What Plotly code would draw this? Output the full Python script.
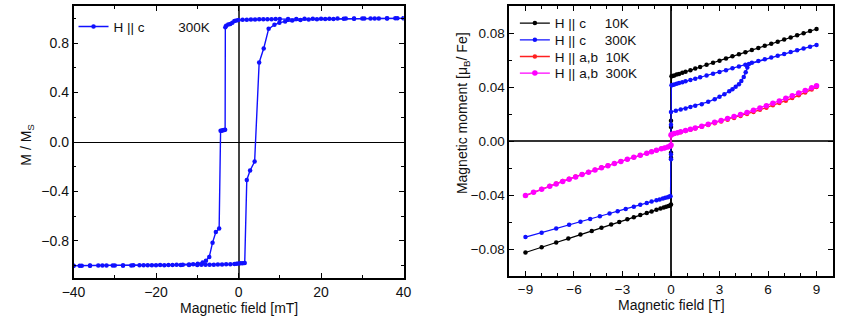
import plotly.graph_objects as go

# ---------------- Left panel: hysteresis loop at 300 K (H || c) ----------------
H_down = [40, 38, 36, 34, 32, 30, 28, 26, 24, 22, 20, 18, 16, 14, 12, 10, 9, 8, 7, 6, 5, 4, 3, 2, 1, 0,
          -0.5, -1.0, -1.5, -2.0, -2.5, -3.0, -3.2, -3.25, -3.5, -3.8, -4.1, -4.35, -4.7, -5.5, -6.3,
          -7.1, -7.9, -8.7, -9.9, -11, -12, -13.5, -15, -17, -19, -21, -23, -25.5, -28, -30.5, -33,
          -36, -38.5, -40]
M_down = [1.000, 1.000, 1.000, 0.999, 0.999, 0.999, 0.998, 0.998, 0.998, 0.997, 0.997, 0.996, 0.996,
          0.995, 0.995, 0.994, 0.994, 0.993, 0.993, 0.992, 0.992, 0.991, 0.990, 0.989, 0.988, 0.986,
          0.983, 0.978, 0.965, 0.955, 0.950, 0.940, 0.928, 0.100, 0.097, 0.095, 0.092, 0.090, -0.700,
          -0.728, -0.814, -0.930, -0.960, -0.975, -0.985, -0.988, -0.990, -0.992, -0.993, -0.994,
          -0.995, -0.996, -0.997, -0.997, -0.998, -0.998, -0.999, -0.999, -1.000, -1.000]
H_up = [-40, -38, -36, -34, -32, -30, -28, -26, -24, -22, -20, -18, -16, -14, -12, -10, -9, -8, -7, -6,
        -5, -4, -3, -2, -1, -0.5, 0, 0.5, 1.0, 1.5, 2.0, 2.8, 3.9, 5.0, 6.1, 7.3, 8.7, 9.9, 11.3, 13,
        15, 17, 19, 21, 23, 25.5, 28, 30.5, 33, 36, 38.5, 40]
M_up = [-1.000, -1.000, -1.000, -0.999, -0.999, -0.999, -0.998, -0.998, -0.997, -0.997, -0.996, -0.996,
        -0.995, -0.995, -0.994, -0.994, -0.993, -0.993, -0.992, -0.992, -0.991, -0.990, -0.989, -0.988,
        -0.986, -0.985, -0.983, -0.981, -0.980, -0.979, -0.307, -0.230, -0.158, 0.643, 0.756, 0.915,
        0.948, 0.965, 0.975, 0.982, 0.987, 0.990, 0.992, 0.994, 0.995, 0.996, 0.997, 0.998, 0.999,
        0.999, 1.000, 1.000]

# ---------------- Right panel: magnetic moment vs field ----------------
# H || c, 10 K (black)
Hc10 = [9.0, 8.6, 8.2, 7.8, 7.4, 7.0, 6.6, 6.2, 5.8, 5.4, 5.0, 4.6, 4.2, 3.8, 3.4, 3.0, 2.6, 2.2, 1.8,
        1.5, 1.2, 0.9, 0.7, 0.5, 0.35, 0.2, 0.1, 0.03,
        0, 0, 0, 0, 0,
        -0.05, -0.15, -0.3, -0.45, -0.65, -0.9, -1.2, -1.5, -1.9, -2.3, -2.7, -3.2, -3.7, -4.3, -4.9,
        -5.6, -6.35, -7.1, -8.0, -9.0]
Mc10 = [0.0830, 0.0814, 0.0799, 0.0783, 0.0767, 0.0752, 0.0736, 0.0720, 0.0705, 0.0689, 0.0674,
        0.0658, 0.0642, 0.0627, 0.0611, 0.0595, 0.0580, 0.0564, 0.0548, 0.0537, 0.0525, 0.0513,
        0.0505, 0.0497, 0.0492, 0.0486, 0.0482, 0.0479,
        0.0150, 0.0104, -0.0087, -0.0124, -0.0470,
        -0.0477, -0.0481, -0.0487, -0.0493, -0.0500, -0.0510, -0.0522, -0.0534, -0.0549, -0.0565,
        -0.0580, -0.0600, -0.0619, -0.0643, -0.0666, -0.0693, -0.0723, -0.0752, -0.0787, -0.0826]

# H || c, 300 K (blue): virgin curve, upper branch, jump, lower branch
Hc300 = [0.0, 0.3, 0.6, 0.9, 1.2, 1.5, 1.9, 2.3, 2.7, 3.0, 3.3, 3.6, 3.8, 4.0, 4.2, 4.35, 4.5, 4.62,
         4.72, 4.82,
         9.0, 8.6, 8.2, 7.8, 7.4, 7.0, 6.6, 6.2, 5.8, 5.4, 5.0, 4.6, 4.2, 3.8, 3.4, 3.0, 2.6, 2.2, 1.8,
         1.5, 1.2, 0.9, 0.7, 0.5, 0.35, 0.2, 0.1, 0.03,
         0, 0, 0,
         -0.03, -0.1, -0.2, -0.35, -0.5, -0.7, -0.9, -1.2, -1.5, -1.9, -2.3, -2.8, -3.3, -3.8, -4.4,
         -5.0, -5.6, -6.3, -7.1, -8.0, -9.0]
Mc300 = [0.0215, 0.0225, 0.0233, 0.0241, 0.0251, 0.0261, 0.0273, 0.0290, 0.0310, 0.0327, 0.0347,
         0.0368, 0.0384, 0.0401, 0.0421, 0.0445, 0.0475, 0.0510, 0.0545, 0.0570,
         0.0712, 0.0699, 0.0685, 0.0672, 0.0659, 0.0645, 0.0632, 0.0619, 0.0605, 0.0592, 0.0579,
         0.0565, 0.0552, 0.0539, 0.0525, 0.0512, 0.0499, 0.0485, 0.0472, 0.0462, 0.0452, 0.0442,
         0.0435, 0.0429, 0.0424, 0.0419, 0.0415, 0.0413,
         0.0120, -0.0100, -0.0136,
         -0.0410, -0.0412, -0.0416, -0.0421, -0.0426, -0.0433, -0.0439, -0.0449, -0.0460, -0.0473,
         -0.0487, -0.0503, -0.0520, -0.0537, -0.0557, -0.0578, -0.0598, -0.0621, -0.0648, -0.0679,
         -0.0712]

# H || a,b (red 10 K, magenta 300 K)
Hab = [-9.0, -8.5, -8.0, -7.5, -7.1, -6.7, -6.3, -5.9, -5.5, -5.1, -4.7, -4.3, -3.9, -3.5, -3.1, -2.7,
       -2.3, -1.9, -1.5, -1.2, -0.9, -0.6, -0.4, -0.2, -0.05,
       0, 0,
       0.05, 0.2, 0.4, 0.6, 0.9, 1.2, 1.5, 1.9, 2.3, 2.7, 3.1, 3.5, 3.9, 4.3, 4.7, 5.1, 5.5, 5.9, 6.3,
       6.7, 7.1, 7.5, 7.9, 8.3, 8.7, 9.0]
Mab10 = [-0.0405, -0.0380, -0.0355, -0.0333, -0.0315, -0.0297, -0.0280, -0.0263, -0.0246, -0.0230,
         -0.0213, -0.0197, -0.0181, -0.0166, -0.0150, -0.0135, -0.0120, -0.0105, -0.0090, -0.0079,
         -0.0068, -0.0058, -0.0051, -0.0044, -0.0038,
         -0.0030, 0.0040,
         0.0048, 0.0053, 0.0059, 0.0065, 0.0074, 0.0083, 0.0093, 0.0105, 0.0118, 0.0131, 0.0144,
         0.0157, 0.0171, 0.0185, 0.0200, 0.0215, 0.0231, 0.0247, 0.0264, 0.0281, 0.0299, 0.0318,
         0.0338, 0.0359, 0.0381, 0.0400]
Mab300 = [-0.0403, -0.0380, -0.0357, -0.0336, -0.0318, -0.0300, -0.0283, -0.0266, -0.0249, -0.0232,
          -0.0215, -0.0199, -0.0183, -0.0167, -0.0151, -0.0136, -0.0121, -0.0106, -0.0091, -0.0080,
          -0.0069, -0.0058, -0.0051, -0.0044, -0.0038,
          -0.0030, 0.0045,
          0.0050, 0.0055, 0.0061, 0.0068, 0.0077, 0.0087, 0.0097, 0.0110, 0.0124, 0.0138, 0.0152,
          0.0166, 0.0181, 0.0196, 0.0212, 0.0228, 0.0245, 0.0262, 0.0279, 0.0297, 0.0316, 0.0335,
          0.0355, 0.0375, 0.0395, 0.0409]

NB = "\u00a0"
FONT = "Arial, 'Liberation Sans', sans-serif"
BLUE = "#1010ff"

fig = go.Figure()

# Left panel (single legend entry, two branches)
fig.add_trace(go.Scatter(x=H_down + [None] + H_up, y=M_down + [None] + M_up, mode="lines+markers",
                         name="H || c" + NB * 9 + "300K", line=dict(color=BLUE, width=1.4),
                         marker=dict(color=BLUE, size=4.5), connectgaps=False,
                         xaxis="x", yaxis="y", legend="legend"))

# Right panel (one legend box per row for exact row spacing)
fig.add_trace(go.Scatter(x=Hc10, y=Mc10, mode="lines+markers", name="H || c" + NB * 5 + "10K",
                         line=dict(color="black", width=1.2), marker=dict(color="black", size=4.5),
                         xaxis="x2", yaxis="y2", legend="legend2"))
fig.add_trace(go.Scatter(x=Hc300, y=Mc300, mode="lines+markers", name="H || c" + NB * 5 + "300K",
                         line=dict(color=BLUE, width=1.2), marker=dict(color=BLUE, size=4.5),
                         xaxis="x2", yaxis="y2", legend="legend3"))
fig.add_trace(go.Scatter(x=Hab, y=Mab10, mode="lines+markers", name="H || a,b" + NB * 2 + "10K",
                         line=dict(color="#ff2020", width=1.3), marker=dict(color="#ff2020", size=4.5),
                         xaxis="x2", yaxis="y2", legend="legend4"))
fig.add_trace(go.Scatter(x=Hab, y=Mab300, mode="lines+markers", name="H || a,b" + NB * 2 + "300K",
                         line=dict(color="#ff00ff", width=1.3), marker=dict(color="#ff00ff", size=5.5),
                         xaxis="x2", yaxis="y2", legend="legend5"))

W, Hh = 849, 323


def px_x(p):
    return p / W


def px_y(p):
    return 1 - p / Hh


def axis_common(fs):
    return dict(showline=True, linecolor="black", linewidth=1.5, mirror="ticks", ticks="inside",
                ticklen=5, tickwidth=1.2, tickcolor="black", showgrid=False,
                tickfont=dict(family=FONT, size=fs, color="#111"))


def leg(xp, yp):
    return dict(x=px_x(xp), y=px_y(yp), xanchor="left", yanchor="middle", bgcolor="rgba(0,0,0,0)",
                font=dict(family=FONT, size=13.5, color="#111"), itemwidth=30, tracegroupgap=0)


fig.update_layout(
    width=W, height=Hh, margin=dict(l=0, r=0, t=0, b=0),
    paper_bgcolor="white", plot_bgcolor="white",
    font=dict(family=FONT, color="#111"),
    xaxis=dict(domain=[px_x(63), px_x(401)], range=[-40, 40], tick0=0, dtick=20,
               minor=dict(dtick=10, ticks="inside", ticklen=3, tickcolor="black"),
               zeroline=True, zerolinecolor="#444", zerolinewidth=2,
               anchor="y", **axis_common(14)),
    yaxis=dict(domain=[px_y(278), px_y(6)], range=[-1.1, 1.1], tick0=0, dtick=0.4, tickformat=".1f",
               minor=dict(dtick=0.2, ticks="inside", ticklen=3, tickcolor="black"),
               zeroline=True, zerolinecolor="black", zerolinewidth=1.2,
               anchor="x", **axis_common(14)),
    xaxis2=dict(domain=[px_x(509.3), px_x(840.5)], range=[-10, 10], tick0=0, dtick=3,
                minor=dict(dtick=1, ticks="inside", ticklen=3, tickcolor="black"),
                zeroline=True, zerolinecolor="#222", zerolinewidth=1.5,
                anchor="y2", **axis_common(13.5)),
    yaxis2=dict(domain=[px_y(276), px_y(6)], range=[-0.1, 0.1], tick0=0, dtick=0.04, tickformat=".2f",
                minor=dict(dtick=0.02, ticks="inside", ticklen=3, tickcolor="black"),
                zeroline=True, zerolinecolor="#333", zerolinewidth=1.5,
                anchor="x2", **axis_common(13.5)),
    legend=leg(63, 26.7),
    legend2=leg(515, 23.3),
    legend3=leg(515, 40.0),
    legend4=leg(515, 56.7),
    legend5=leg(515, 73.3),
    showlegend=True,
)

ann_font = dict(family=FONT, size=14, color="#111")
fig.add_annotation(text="Magnetic field [mT]", x=px_x(232), y=px_y(308), xref="paper", yref="paper",
                   showarrow=False, font=ann_font, xanchor="center", yanchor="middle")
fig.add_annotation(text="Magnetic field [T]", x=px_x(675), y=px_y(305), xref="paper", yref="paper",
                   showarrow=False, font=ann_font, xanchor="center", yanchor="middle")
fig.add_annotation(text="M / M<sub>S</sub>", x=px_x(15), y=px_y(145), xref="paper", yref="paper",
                   showarrow=False, font=ann_font, textangle=-90, xanchor="center", yanchor="middle")
fig.add_annotation(text="Magnetic moment [\u03bc<sub>B</sub>/ Fe]", x=px_x(462), y=px_y(113),
                   xref="paper", yref="paper", showarrow=False, font=ann_font, textangle=-90,
                   xanchor="center", yanchor="middle")

fig.write_html("out.html")
